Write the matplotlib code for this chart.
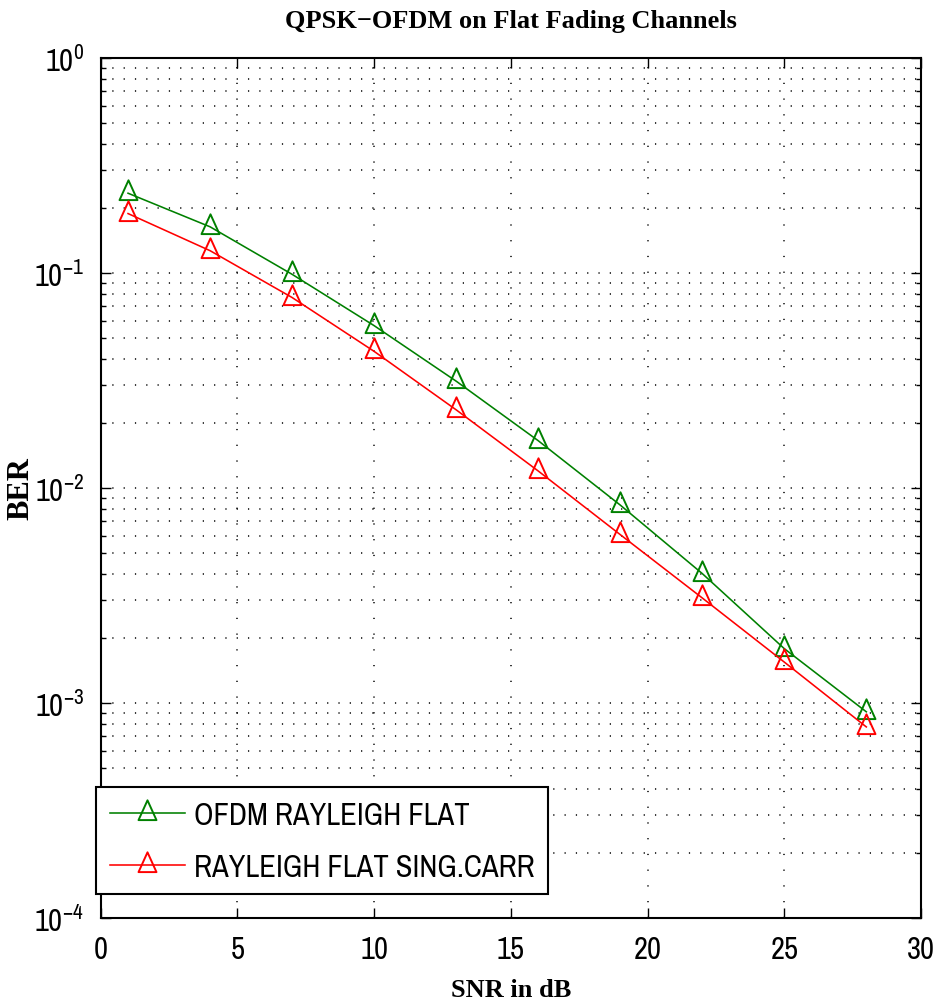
import matplotlib
matplotlib.use("Agg")
import matplotlib.pyplot as plt
from matplotlib.path import Path
from matplotlib.ticker import LogLocator, FixedLocator, LogFormatterSciNotation, NullFormatter

# SNR sweep (dB) and measured bit error rates
snr_db = [1, 4, 7, 10, 13, 16, 19, 22, 25, 28]
ber_ofdm = [0.235, 0.164, 0.0986, 0.0569, 0.0314, 0.0166, 0.00833, 0.0040, 0.00179, 0.00091]
ber_single = [0.189, 0.127, 0.0769, 0.0432, 0.0231, 0.0120, 0.00607, 0.00308, 0.00155, 0.000774]
series_labels = ["OFDM RAYLEIGH FLAT", "RAYLEIGH FLAT SING.CARR"]
x_ticks = [0, 5, 10, 15, 20, 25, 30]

SANS = ["Archivo Narrow", "Liberation Sans", "DejaVu Sans"]
SERIF = ["Liberation Serif", "DejaVu Serif"]

plt.rcParams["font.family"] = SANS
plt.rcParams["mathtext.fontset"] = "custom"
plt.rcParams["mathtext.rm"] = "Archivo Narrow"
plt.rcParams["mathtext.it"] = "Archivo Narrow"
plt.rcParams["mathtext.default"] = "regular"
plt.rcParams["axes.unicode_minus"] = True

W, H = 938, 1003
fig = plt.figure(figsize=(W / 100, H / 100), dpi=100)
ax_l, ax_r, ax_t, ax_b = 100.7, 921.0, 59.0, 919.0
ax = fig.add_axes([ax_l / W, (H - ax_b) / H, (ax_r - ax_l) / W, (ax_b - ax_t) / H])

# triangle marker centred on its centroid
tri = Path([(0, 1), (-0.68, -0.5), (0.68, -0.5), (0, 1)],
           [Path.MOVETO, Path.LINETO, Path.LINETO, Path.CLOSEPOLY])

style = dict(marker=tri, markersize=19, markerfacecolor="none",
             markeredgewidth=1.4, linewidth=1.15)
ax.plot(snr_db, ber_ofdm, color="#008000", label=series_labels[0], **style)
ax.plot(snr_db, ber_single, color="#ff0000", label=series_labels[1], **style)

ax.set_yscale("log")
ax.set_xlim(0, 30)
ax.set_ylim(1e-4, 1)
ax.xaxis.set_major_locator(FixedLocator(x_ticks))
ax.yaxis.set_major_locator(LogLocator(base=10, numticks=10))
ax.yaxis.set_minor_locator(LogLocator(base=10, subs=range(2, 10), numticks=20))
ax.yaxis.set_major_formatter(LogFormatterSciNotation())
ax.yaxis.set_minor_formatter(NullFormatter())

ax.tick_params(axis="both", which="major", direction="in", length=7, width=1,
               top=True, right=True, labelsize=22, pad=12)
ax.tick_params(axis="y", which="minor", direction="in", length=3.5, width=1,
               right=True, left=True)
for s in ax.spines.values():
    s.set_linewidth(1.5)

# dotted grid
ax.grid(True, which="major", axis="x", color="black", linewidth=1.1,
        linestyle=(0, (0.8, 9.5)))
ax.grid(True, which="both", axis="y", color="black", linewidth=1.1,
        linestyle=(0, (0.8, 6.6)))
ax.set_axisbelow(True)

ax.set_title("QPSK\u2212OFDM on Flat Fading Channels", family=SERIF,
             fontweight="bold", fontsize=19, pad=22)
ax.set_xlabel("SNR in dB", family=SERIF, fontweight="bold", fontsize=19)
ax.xaxis.set_label_coords(0.5, (ax_b - 997) / (ax_b - ax_t))
ax.xaxis.label.set_va("baseline")
ax.set_ylabel("BER", family=SERIF, fontweight="bold", fontsize=22)
ax.yaxis.set_label_coords((21 - ax_l) / (ax_r - ax_l), 0.5)
ax.yaxis.label.set_va("center")

leg = ax.legend(loc="upper left",
                bbox_to_anchor=((96 - ax_l) / (ax_r - ax_l), (ax_b - 788) / (ax_b - ax_t)),
                borderaxespad=0, fontsize=22, handlelength=2.45, handletextpad=0.31,
                borderpad=0.45, labelspacing=0.78, fancybox=False, framealpha=1,
                edgecolor="black")
leg.get_frame().set_linewidth(1.5)

fig.savefig("out.png", dpi=100)
